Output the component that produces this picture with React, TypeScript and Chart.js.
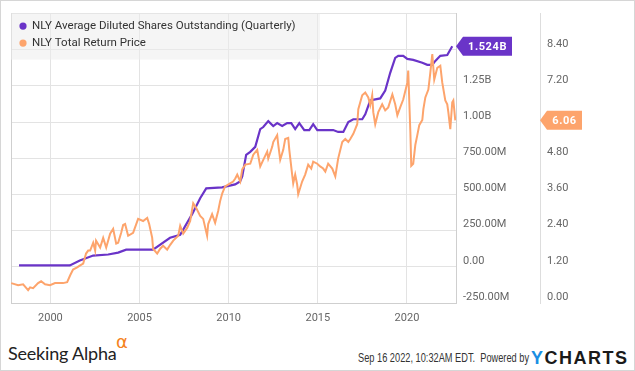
import React, { useEffect, useRef } from "react";
import { Chart, registerables } from "chart.js";

Chart.register(...registerables);

// ---- Data ----
const shareDates = [1998.24, 2001.09, 2001.65, 2002.4, 2003.24, 2003.8, 2004.25, 2005.76, 2006.71, 2007.28, 2007.95, 2008.4, 2008.74, 2009.63, 2010.36, 2010.64, 2010.76, 2010.98, 2011.21, 2011.49, 2011.77, 2011.94, 2012.22, 2012.5, 2012.72, 2013.0, 2013.28, 2013.51, 2013.73, 2013.96, 2014.24, 2014.52, 2014.74, 2014.97, 2015.86, 2016.14, 2016.43, 2016.71, 2016.99, 2017.49, 2017.66, 2017.94, 2018.22, 2018.5, 2018.78, 2019.06, 2019.34, 2019.51, 2019.79, 2020.02, 2020.35, 2020.86, 2021.14, 2021.42, 2021.59, 2021.87, 2022.26, 2022.54];
// millions of shares
const shareValues = [10, 10, 44, 78, 85, 98, 119, 119, 201, 221, 364, 474, 542, 549, 570, 590, 624, 774, 795, 829, 952, 966, 1007, 973, 993, 973, 993, 993, 952, 993, 945, 945, 986, 945, 945, 932, 932, 1000, 1020, 1020, 1054, 1150, 1157, 1164, 1218, 1341, 1444, 1458, 1458, 1437, 1430, 1410, 1396, 1396, 1423, 1458, 1464, 1524];

const priceDates = [1997.8, 1998.19, 1998.47, 1998.75, 1998.86, 1999.03, 1999.31, 1999.48, 1999.7, 1999.98, 2000.26, 2000.43, 2000.71, 2000.94, 2001.11, 2001.27, 2001.5, 2001.67, 2001.84, 2002.0, 2002.12, 2002.23, 2002.4, 2002.51, 2002.56, 2002.79, 2002.96, 2003.13, 2003.35, 2003.52, 2003.69, 2003.8, 2003.97, 2004.08, 2004.19, 2004.36, 2004.64, 2004.92, 2005.2, 2005.43, 2005.54, 2005.71, 2005.76, 2005.99, 2006.16, 2006.32, 2006.55, 2006.72, 2006.89, 2007.17, 2007.28, 2007.45, 2007.67, 2007.84, 2008.01, 2008.18, 2008.4, 2008.57, 2008.79, 2008.85, 2009.07, 2009.24, 2009.41, 2009.52, 2009.64, 2009.8, 2010.08, 2010.25, 2010.37, 2010.48, 2010.65, 2010.76, 2010.93, 2011.21, 2011.38, 2011.6, 2011.77, 2011.94, 2012.16, 2012.22, 2012.44, 2012.5, 2012.72, 2012.78, 2012.89, 2013.06, 2013.17, 2013.34, 2013.4, 2013.56, 2013.62, 2013.73, 2013.84, 2013.9, 2014.12, 2014.29, 2014.46, 2014.63, 2014.74, 2014.97, 2015.13, 2015.3, 2015.42, 2015.58, 2015.81, 2015.98, 2016.14, 2016.37, 2016.54, 2016.71, 2016.82, 2016.99, 2017.21, 2017.27, 2017.49, 2017.66, 2017.83, 2017.94, 2018.05, 2018.11, 2018.22, 2018.39, 2018.61, 2018.78, 2018.95, 2019.18, 2019.34, 2019.46, 2019.62, 2019.79, 2020.02, 2020.07, 2020.19, 2020.24, 2020.35, 2020.47, 2020.58, 2020.69, 2020.86, 2020.92, 2021.03, 2021.2, 2021.31, 2021.42, 2021.53, 2021.7, 2021.87, 2021.98, 2022.15, 2022.26, 2022.32, 2022.43, 2022.54, 2022.6, 2022.71];
const priceValues = [0.66, 0.59, 0.62, 0.43, 0.52, 0.49, 0.66, 0.72, 0.62, 0.59, 0.66, 0.66, 0.66, 0.69, 0.92, 1.11, 1.18, 1.25, 1.31, 1.64, 1.74, 1.74, 2.0, 1.74, 2.07, 1.84, 2.16, 1.84, 2.3, 2.46, 1.97, 2.0, 2.33, 2.59, 2.62, 2.23, 2.33, 2.79, 2.72, 2.82, 2.62, 2.16, 1.8, 1.64, 1.8, 1.9, 1.77, 1.93, 2.07, 2.23, 2.56, 2.3, 2.49, 2.72, 3.31, 3.15, 2.89, 2.79, 2.23, 2.62, 2.95, 2.66, 3.05, 3.38, 3.64, 3.87, 3.97, 4.03, 4.13, 4.26, 4.03, 4.43, 4.59, 4.62, 4.92, 5.08, 4.53, 4.75, 5.02, 4.79, 5.18, 5.34, 5.57, 5.25, 4.75, 5.08, 5.44, 5.48, 5.08, 4.26, 3.97, 4.26, 3.93, 3.61, 4.03, 4.26, 4.59, 4.46, 4.69, 4.62, 4.53, 4.46, 4.36, 4.62, 4.46, 4.2, 4.79, 5.34, 5.44, 5.34, 5.44, 5.61, 5.93, 6.43, 6.89, 6.98, 6.82, 6.56, 6.89, 6.33, 5.93, 6.33, 6.59, 6.39, 6.49, 6.92, 6.59, 6.23, 6.49, 6.75, 7.31, 7.71, 5.67, 4.55, 4.62, 5.25, 5.57, 5.9, 6.07, 6.43, 6.82, 7.08, 7.64, 8.26, 7.41, 7.8, 7.87, 7.31, 6.72, 6.59, 6.33, 5.77, 6.66, 6.72, 6.06];

const xTickYears = [2000, 2005, 2010, 2015, 2020];
const seriesLabels = ["NLY Average Diluted Shares Outstanding (Quarterly)", "NLY Total Return Price"];
const lastShareLabel = "1.524B";
const lastPriceLabel = "6.06";

// ---- Styles ----
const PURPLE = "#6a34c8";
const ORANGE = "#fda46c";
const GRID = "#e3e3e3";
const AXIS_LINE = "#cfcfcf";
const LABEL = "#666666";
const FONT = "Roboto, 'Noto Sans', sans-serif";

function fmtShares(v: number): string {
  if (v === 0) return "0.00";
  if (Math.abs(v) >= 1000) return (v / 1000).toFixed(2) + "B";
  return v.toFixed(2) + "M";
}

export default function App() {
  const ref = useRef<HTMLCanvasElement | null>(null);

  useEffect(() => {
    document.body.style.margin = "0";
    const canvas = ref.current;
    if (!canvas) return;

    const framePlugin = {
      id: "frame",
      beforeDatasetsDraw(chart: any) {
        const { ctx, chartArea } = chart;
        ctx.save();
        ctx.strokeStyle = AXIS_LINE;
        ctx.lineWidth = 1;
        ctx.beginPath();
        ctx.moveTo(Math.round(chartArea.left) + 0.5, chartArea.top);
        ctx.lineTo(Math.round(chartArea.left) + 0.5, chartArea.bottom);
        ctx.stroke();
        ctx.restore();
      },
    };

    const overlayPlugin = {
      id: "overlay",
      afterDraw(chart: any) {
        const { ctx, chartArea, scales } = chart;
        ctx.save();
        // legend box
        const lx = chartArea.left;
        const ly = chartArea.top;
        ctx.fillStyle = "rgba(236,236,236,0.55)";
        ctx.fillRect(lx, ly, 309, 46);
        const colors = [PURPLE, ORANGE];
        ctx.font = `11.5px ${FONT}`;
        ctx.textBaseline = "middle";
        ctx.textAlign = "left";
        seriesLabels.forEach((t, i) => {
          const cy = ly + 12.5 + i * 17;
          ctx.fillStyle = colors[i];
          ctx.beginPath();
          ctx.arc(lx + 12, cy, 3.6, 0, Math.PI * 2);
          ctx.fill();
          ctx.fillStyle = "#333333";
          ctx.fillText(t, lx + 21, cy + 0.5);
        });

        // value tags
        const ys = scales.yShares;
        const yp = scales.yPrice;
        const sy = ys.getPixelForValue(shareValues[shareValues.length - 1]);
        const py = yp.getPixelForValue(priceValues[priceValues.length - 1]);

        const drawTag = (x0: number, y: number, w: number, color: string, text: string) => {
          const h = 19;
          ctx.fillStyle = color;
          ctx.beginPath();
          ctx.moveTo(x0, y);
          ctx.lineTo(x0 + 7, y - h / 2);
          ctx.lineTo(x0 + w, y - h / 2);
          ctx.lineTo(x0 + w, y + h / 2);
          ctx.lineTo(x0 + 7, y + h / 2);
          ctx.closePath();
          ctx.fill();
          ctx.fillStyle = "#ffffff";
          ctx.font = `bold 11px ${FONT}`;
          (ctx as any).letterSpacing = "0.6px";
          ctx.textAlign = "center";
          ctx.textBaseline = "middle";
          ctx.fillText(text, x0 + 7 + (w - 7) / 2, y + 0.5);
          (ctx as any).letterSpacing = "0px";
        };
        drawTag(ys.left, sy, 56, PURPLE, lastShareLabel);
        drawTag(yp.left, py, 42, ORANGE, lastPriceLabel);
        ctx.restore();
      },
    };

    const chart = new Chart(canvas, {
      type: "line",
      data: {
        datasets: [
          {
            label: seriesLabels[1],
            data: priceDates.map((d, i) => ({ x: d, y: priceValues[i] })),
            yAxisID: "yPrice",
            borderColor: ORANGE,
            backgroundColor: ORANGE,
            borderWidth: 2,
            pointRadius: 0,
            tension: 0,
            order: 0,
          },
          {
            label: seriesLabels[0],
            data: shareDates.map((d, i) => ({ x: d, y: shareValues[i] })),
            yAxisID: "yShares",
            borderColor: PURPLE,
            backgroundColor: PURPLE,
            borderWidth: 2.2,
            pointRadius: 0,
            tension: 0,
            order: 1,
          },
        ],
      },
      options: {
        responsive: false,
        animation: false,
        events: [],
        layout: { padding: { left: 11, top: 11, right: 0, bottom: 0 } },
        plugins: { legend: { display: false }, tooltip: { enabled: false } },
        scales: {
          x: {
            type: "linear",
            min: 1997.79,
            max: 2022.75,
            afterBuildTicks: (s: any) => {
              s.ticks = xTickYears.map((v) => ({ value: v }));
            },
            afterFit: (s: any) => {
              s.height = 27;
            },
            ticks: {
              autoSkip: false,
              maxRotation: 0,
              padding: 9,
              color: LABEL,
              font: { family: FONT, size: 11 },
              callback: (v: any) => String(v),
            },
            grid: { color: GRID, drawTicks: false },
            border: { color: AXIS_LINE },
          },
          yShares: {
            type: "linear",
            position: "right",
            weight: 0,
            min: -250,
            max: 1750,
            afterFit: (s: any) => {
              s.width = 84;
            },
            ticks: {
              stepSize: 250,
              padding: 7,
              labelOffset: -6,
              color: LABEL,
              font: { family: FONT, size: 11 },
              callback: (v: any) => (v >= 1500 ? "" : fmtShares(Number(v))),
            },
            grid: { color: GRID, drawTicks: false },
            border: { color: AXIS_LINE },
          },
          yPrice: {
            type: "linear",
            position: "right",
            weight: 1,
            min: 0,
            max: 9.6,
            afterFit: (s: any) => {
              s.width = 95;
            },
            ticks: {
              stepSize: 1.2,
              padding: 7,
              labelOffset: -6,
              color: LABEL,
              font: { family: FONT, size: 11 },
              callback: (v: any) => (Number(v) >= 9.5 ? "" : Number(v).toFixed(2)),
            },
            grid: { drawOnChartArea: false, drawTicks: false },
            border: { color: "#dddddd" },
          },
        },
      },
      plugins: [framePlugin, overlayPlugin],
    } as any);

    return () => chart.destroy();
  }, []);

  return (
    <div
      style={{
        position: "relative",
        width: 635,
        height: 371,
        background: "#ffffff",
        overflow: "hidden",
        fontFamily: FONT,
      }}
    >
      <canvas ref={ref} width={635} height={330} style={{ position: "absolute", left: 0, top: 0, width: 635, height: 330 }} />
      <div
        style={{
          position: "absolute",
          left: 8,
          top: 344,
          fontFamily: "Lato, 'Open Sans', sans-serif",
          fontSize: 18,
          lineHeight: "18px",
          color: "#222222",
          whiteSpace: "nowrap",
          letterSpacing: "-0.2px",
        }}
      >
        Seeking Alpha
      </div>
      <div
        style={{
          position: "absolute",
          left: 116,
          top: 333,
          fontFamily: "'DejaVu Sans', sans-serif",
          fontSize: 18,
          lineHeight: "18px",
          color: "#f58220",
        }}
      >
        α
      </div>
      <div
        style={{
          position: "absolute",
          left: 358,
          top: 352,
          fontFamily: "'Liberation Sans', Arial, sans-serif",
          fontSize: 12,
          lineHeight: "12px",
          color: "#333333",
          whiteSpace: "pre",
          transform: "scaleX(0.77)",
          transformOrigin: "0 0",
        }}
      >
        {"Sep 16 2022, 10:32AM EDT.  Powered by"}
      </div>
      <div
        style={{
          position: "absolute",
          left: 531,
          top: 349,
          fontFamily: "'Liberation Sans', Roboto, sans-serif",
          fontWeight: 700,
          fontSize: 18,
          lineHeight: "18px",
          letterSpacing: "1.5px",
          color: "#1a1a1a",
          whiteSpace: "nowrap",
        }}
      >
        <span style={{ color: "#1a8fe3" }}>Y</span>CHARTS
      </div>
      <div
        style={{
          position: "absolute",
          left: 0,
          top: 0,
          width: 635,
          height: 371,
          boxSizing: "border-box",
          border: "1px solid #d6d6d6",
          pointerEvents: "none",
        }}
      />
    </div>
  );
}
